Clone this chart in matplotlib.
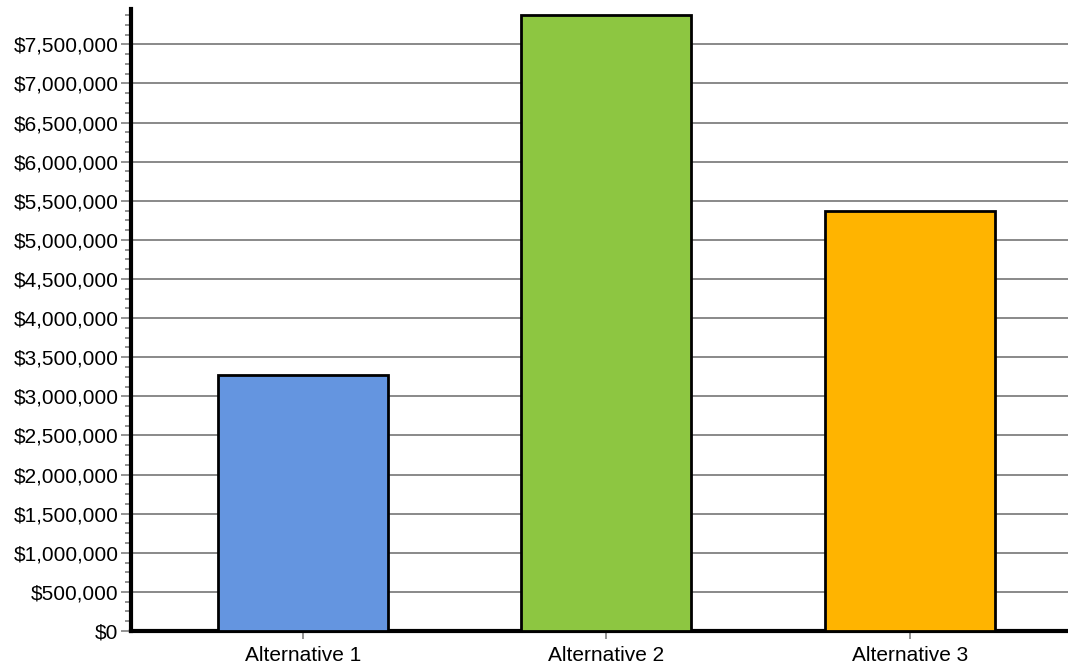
import matplotlib
import matplotlib.pyplot as plt
from matplotlib.ticker import FuncFormatter, MultipleLocator

matplotlib.use("Agg")

categories = ["Alternative 1", "Alternative 2", "Alternative 3"]
values = [3270000, 7875000, 5366000]
colors = ["#6495e0", "#8dc641", "#ffb400"]


def main():
    plt.rcParams["font.family"] = ["Liberation Sans", "DejaVu Sans"]
    fig = plt.figure(figsize=(10.68, 6.71), dpi=100)
    ax = fig.add_axes([131 / 1068, 40 / 671, 1 - 131 / 1068, 1 - 40 / 671 - 9 / 671])

    x = list(range(len(categories)))
    ax.bar(x, values, width=0.56, color=colors, edgecolor="black", linewidth=2, zorder=3)

    ax.set_xlim(-0.566, 2.52)
    ax.set_ylim(0, 7952000)
    ax.yaxis.set_major_locator(MultipleLocator(500000))
    ax.yaxis.set_minor_locator(MultipleLocator(125000))
    ax.yaxis.set_major_formatter(FuncFormatter(lambda v, p: f"${v:,.0f}"))
    ax.set_xticks(x)
    ax.set_xticklabels(categories)

    ax.grid(axis="y", color="#808080", linewidth=1.3, zorder=0)
    for s in ("top", "right"):
        ax.spines[s].set_visible(False)
    for s in ("left", "bottom"):
        ax.spines[s].set_linewidth(3)
        ax.spines[s].set_color("black")

    ax.tick_params(axis="y", which="major", length=7, width=1.2, color="#808080",
                   labelsize=15, pad=2)
    ax.tick_params(axis="y", which="minor", length=4, width=1.2, color="#808080")
    ax.tick_params(axis="x", length=6, width=1.2, color="#808080", labelsize=15, pad=5)

    fig.savefig("out.png", dpi=100, facecolor="white")
    plt.close(fig)


if __name__ == "__main__":
    main()
